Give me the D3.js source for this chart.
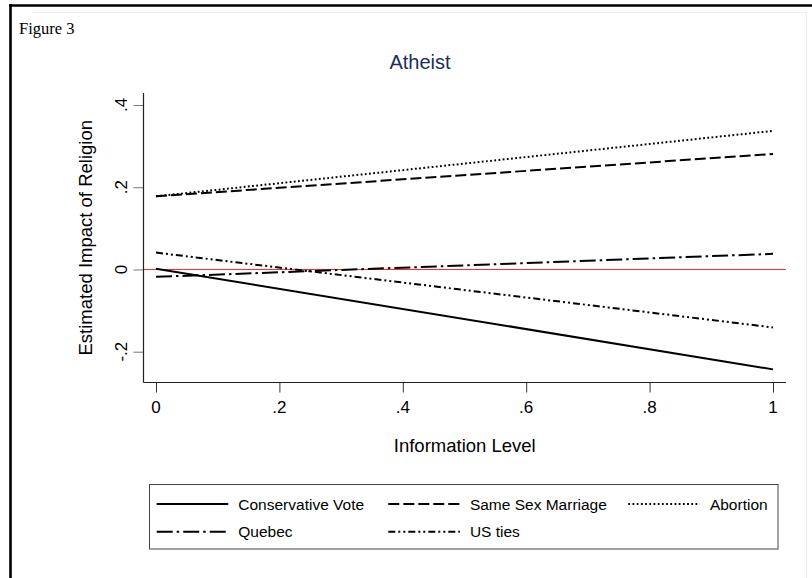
<!DOCTYPE html>
<html>
<head>
<meta charset="utf-8">
<script src="https://cdn.jsdelivr.net/npm/d3@7/dist/d3.min.js"></script>
<style>
  body { margin: 0; background: #fff; }
  svg { display: block; }
  text { font-family: "Liberation Sans", Arial, Helvetica, sans-serif; fill: #000; }
</style>
</head>
<body>
<svg id="chart" width="812" height="578"></svg>
<script>
// Information level (x) at which each fitted line is evaluated
const infoLevels = [0, 1];

// Estimated impact of religion (atheist) per outcome
const conservativeVote = [0.002, -0.243];
const sameSexMarriage  = [0.178, 0.281];
const abortion         = [0.178, 0.337];
const quebec           = [-0.018, 0.038];
const usTies           = [0.041, -0.141];

const seriesNames = ["Conservative Vote", "Same Sex Marriage", "Abortion", "Quebec", "US ties"];

const xTicks = [0, 0.2, 0.4, 0.6, 0.8, 1];
const xTickLabels = ["0", ".2", ".4", ".6", ".8", "1"];
const yTicks = [-0.2, 0, 0.2, 0.4];
const yTickLabels = ["-.2", "0", ".2", ".4"];

const seriesValues = [conservativeVote, sameSexMarriage, abortion, quebec, usTies];
const dashes = [null, "11,4", "1.8,2.4", "16,4,2.5,4", "7,3,2,3,2,3"];

const svg = d3.select("#chart");

// page frame
svg.append("path").attr("d", "M32.5,12.5H806.5V578").attr("fill", "none")
  .attr("stroke", "#e9eded").attr("stroke-width", 1);
svg.append("line").attr("x1", 9).attr("x2", 812).attr("y1", 5.5).attr("y2", 5.5)
  .attr("stroke", "#000").attr("stroke-width", 2.6);
svg.append("line").attr("x1", 10.5).attr("x2", 10.5).attr("y1", 4).attr("y2", 578)
  .attr("stroke", "#000").attr("stroke-width", 2.6);

svg.append("text").attr("x", 19).attr("y", 34)
  .style("font-family", "'Liberation Serif', 'DejaVu Serif', serif")
  .style("font-size", "16.5px").text("Figure 3");

// plot region
const plot = { left: 143.5, right: 786, top: 93, bottom: 382.5 };
const x = d3.scaleLinear().domain([0, 1]).range([156, 773]);
const y = d3.scaleLinear().domain([-0.2, 0.4]).range([351.7, 105]);

svg.append("text").attr("x", 420).attr("y", 69).attr("text-anchor", "middle")
  .style("font-size", "20px").style("fill", "#1c2d5a").text("Atheist");

// zero reference line, snapped to the pixel grid so it stays crisp red
const zeroY = Math.round(y(0)) + 0.5;
svg.append("line").attr("x1", plot.left).attr("x2", plot.right)
  .attr("y1", zeroY).attr("y2", zeroY)
  .attr("stroke", "#ff2a2a").attr("stroke-width", 1);

// x axis
const xAxis = d3.axisBottom(x).tickValues(xTicks).tickSize(10).tickFormat("");
const gx = svg.append("g").attr("transform", `translate(0,${plot.bottom})`).call(xAxis);
gx.select(".domain").remove();
gx.selectAll(".tick line").attr("stroke", "#333");
svg.append("line").attr("x1", plot.left).attr("x2", plot.right)
  .attr("y1", plot.bottom).attr("y2", plot.bottom).attr("stroke", "#222").attr("stroke-width", 1.2);
svg.append("g").selectAll("text").data(xTicks).join("text")
  .attr("x", d => x(d)).attr("y", 412.5).attr("text-anchor", "middle")
  .style("font-size", "17px").text((d, i) => xTickLabels[i]);

// y axis
const yAxis = d3.axisLeft(y).tickValues(yTicks).tickSize(10).tickFormat("");
const gy = svg.append("g").attr("transform", `translate(${plot.left},0)`).call(yAxis);
gy.select(".domain").remove();
gy.selectAll(".tick line").attr("stroke", "#777");
svg.append("line").attr("x1", plot.left).attr("x2", plot.left)
  .attr("y1", plot.top).attr("y2", plot.bottom).attr("stroke", "#222").attr("stroke-width", 1.2);
svg.append("g").selectAll("text").data(yTicks).join("text")
  .attr("transform", d => `translate(127,${y(d)}) rotate(-90)`)
  .attr("text-anchor", "middle").style("font-size", "17px")
  .text((d, i) => yTickLabels[i]);

// axis titles
svg.append("text").attr("x", (plot.left + plot.right) / 2).attr("y", 451.5)
  .attr("text-anchor", "middle").style("font-size", "18.5px").text("Information Level");
svg.append("text")
  .attr("transform", `translate(92,${(plot.top + plot.bottom) / 2}) rotate(-90)`)
  .attr("text-anchor", "middle").style("font-size", "18.5px")
  .text("Estimated Impact of Religion");

// fitted lines
const line = d3.line().x(d => x(d[0])).y(d => y(d[1]));
seriesValues.forEach((vals, i) => {
  svg.append("path")
    .datum(infoLevels.map((lv, j) => [lv, vals[j]]))
    .attr("d", line).attr("fill", "none")
    .attr("stroke", "#000").attr("stroke-width", 2)
    .attr("stroke-dasharray", dashes[i]);
});

// legend
svg.append("rect").attr("x", 149.5).attr("y", 484.5).attr("width", 628.5).attr("height", 64.5)
  .attr("fill", "#fff").attr("stroke", "#444").attr("stroke-width", 1);
const keyX = [156.7, 388.3, 628.3];
const rowY = [504, 531.7];
const keyLen = 71.6;
seriesNames.forEach((name, i) => {
  const col = i % 3, row = Math.floor(i / 3);
  const g = svg.append("g");
  g.append("line").attr("x1", keyX[col]).attr("x2", keyX[col] + keyLen)
    .attr("y1", rowY[row]).attr("y2", rowY[row])
    .attr("stroke", "#000").attr("stroke-width", 2).attr("stroke-dasharray", dashes[i]);
  g.append("text").attr("x", keyX[col] + keyLen + 10).attr("y", rowY[row] + 5.5)
    .style("font-size", "15.5px").text(name);
});
</script>
</body>
</html>
